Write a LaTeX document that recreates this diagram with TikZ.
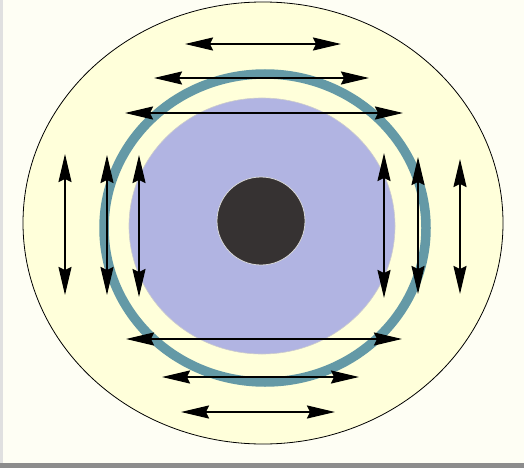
\documentclass[tikz,border=0pt]{standalone}
\usetikzlibrary{arrows.meta}
\definecolor{paper}{HTML}{FEFEF4}
\definecolor{cream}{HTML}{FFFFDA}
\definecolor{lavender}{HTML}{B1B4E2}
\definecolor{ringteal}{HTML}{6499A6}
\definecolor{core}{HTML}{363232}
\tikzset{
  flow/.style={arrows={Stealth[length=28pt,width=13pt,inset=3pt]-Stealth[length=28pt,width=13pt,inset=3pt]},
               line width=1.8pt, draw=black},
}
\begin{document}
\begin{tikzpicture}[x=1pt, y=-1pt]
% background and frame
\fill[paper] (0,0) rectangle (524,468);
\fill[black!12] (0,0) rectangle (3,468);
\fill[black!45] (0,463) rectangle (524,468);
\useasboundingbox (0,0) rectangle (524,468);

% discs
\filldraw[fill=cream, draw=black, line width=0.8pt] (263,223) ellipse [x radius=240, y radius=221];
\draw[ringteal, line width=9.5pt] (265,228) ellipse [x radius=161, y radius=154];
\filldraw[fill=lavender, draw=black!20, line width=0.6pt] (262,226) ellipse [x radius=133, y radius=128];
\filldraw[fill=core, draw=black!15, line width=0.8pt] (261,221) circle (44);

% horizontal arrows
\draw[flow] (185,44) -- (341,44);
\draw[flow] (154,78) -- (369,78);
\draw[flow] (125,113) -- (403,113);
\draw[flow] (126,339) -- (402,339);
\draw[flow] (162,377) -- (359,377);
\draw[flow] (181,412) -- (335,412);

% vertical arrows
\draw[flow] (65,154) -- (65,295);
\draw[flow] (107,155) -- (107,295);
\draw[flow] (139,155) -- (139,297);
\draw[flow] (384,153) -- (384,298);
\draw[flow] (418,157) -- (418,294);
\draw[flow] (460,159) -- (460,294);
\end{tikzpicture}
\end{document}
